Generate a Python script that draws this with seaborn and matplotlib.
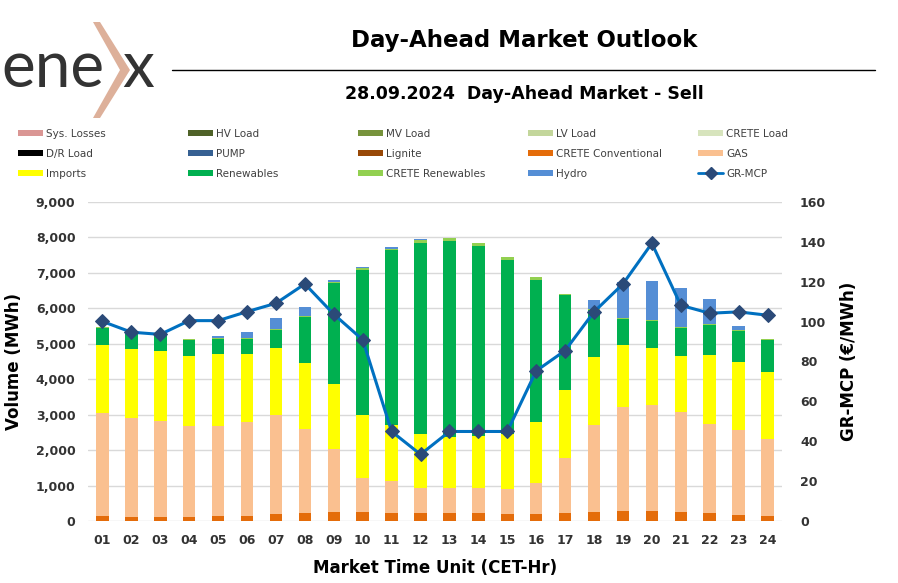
import numpy as np
import pandas as pd
import matplotlib
matplotlib.use("Agg")
import matplotlib.pyplot as plt
from matplotlib.patches import Patch, Polygon
from matplotlib.lines import Line2D
from matplotlib.ticker import FuncFormatter
import seaborn as sns

# hours of the day-ahead market
hours = ["%02d" % h for h in range(1, 25)]

# sell side volumes per hour (MWh)
sys_losses = [0] * 24
hv_load = [0] * 24
mv_load = [0] * 24
lv_load = [0] * 24
crete_load = [0] * 24
dr_load = [0] * 24
pump = [0] * 24
lignite = [0] * 24
crete_conv = [141, 122, 113, 103, 131, 141, 188, 226, 244, 254, 226, 226,
              226, 216, 207, 197, 226, 254, 282, 282, 244, 216, 160, 132]
gas = [2895, 2773, 2697, 2566, 2557, 2650, 2791, 2368, 1777, 949, 892, 695,
       695, 705, 695, 865, 1541, 2462, 2923, 2979, 2839, 2528, 2396, 2171]
imports = [1936, 1964, 1974, 1993, 2030, 1909, 1889, 1870, 1851, 1776, 1579, 1523,
           1457, 1476, 1560, 1729, 1917, 1917, 1767, 1626, 1569, 1946, 1936, 1908]
renewables = [470, 432, 486, 441, 423, 431, 527, 1288, 2829, 4107, 4935, 5404,
              5517, 5366, 4897, 4004, 2679, 1326, 733, 761, 799, 836, 875, 883]
crete_ren = [38, 29, 30, 37, 29, 19, 25, 28, 39, 38, 56, 66,
             94, 94, 94, 75, 47, 31, 20, 17, 19, 19, 18, 38]
hydro = [0, 0, 0, 0, 46, 179, 304, 263, 46, 56, 56, 47,
         0, 0, 0, 0, 0, 241, 1004, 1102, 1100, 724, 113, 0]

# GR-MCP (EUR/MWh)
gr_mcp = [100.1, 94.7, 93.6, 100.5, 100.5, 105.0, 109.2, 118.9, 103.7, 90.9, 44.9, 33.4,
          44.9, 44.9, 44.9, 75.3, 85.5, 104.9, 118.9, 139.3, 108.2, 104.2, 104.9, 103.2]

# legend order (row by row) and colours
legend_items = [
    ("Sys. Losses", sys_losses, "#DA9694"),
    ("HV Load", hv_load, "#4F6228"),
    ("MV Load", mv_load, "#77933C"),
    ("LV Load", lv_load, "#C3D69B"),
    ("CRETE Load", crete_load, "#D7E4BD"),
    ("D/R Load", dr_load, "#000000"),
    ("PUMP", pump, "#366092"),
    ("Lignite", lignite, "#984807"),
    ("CRETE Conventional", crete_conv, "#E46C0A"),
    ("GAS", gas, "#FAC090"),
    ("Imports", imports, "#FFFF00"),
    ("Renewables", renewables, "#00B050"),
    ("CRETE Renewables", crete_ren, "#92D050"),
    ("Hydro", hydro, "#558ED5"),
]
# stacking order, bottom to top
stack_order = ["Lignite", "CRETE Conventional", "GAS", "Imports", "Renewables",
               "CRETE Renewables", "Hydro", "PUMP", "D/R Load", "Sys. Losses",
               "HV Load", "MV Load", "LV Load", "CRETE Load"]

line_col = "#0070C0"
marker_col = "#2B4A78"
txt_col = "#333333"

sns.set_theme(style="white")
plt.rcParams["font.family"] = ["DejaVu Sans"]

fig = plt.figure(figsize=(8.98, 5.83), dpi=100)
ax = fig.add_axes([88 / 898, 1 - 521 / 583, (782 - 88) / 898, (521 - 202) / 583])

lookup = {name: (vals, col) for name, vals, col in legend_items}
cum = np.zeros(24)
layers = []
for name in stack_order:
    vals, col = lookup[name]
    if sum(vals) == 0:
        continue
    cum = cum + np.array(vals)
    layers.append((name, cum.copy(), col))

# overplot cumulative totals from the top layer down
for name, tops, col in reversed(layers):
    df = pd.DataFrame({"hour": hours, "value": tops})
    sns.barplot(data=df, x="hour", y="value", color=col, saturation=1,
                width=0.43, linewidth=0, ax=ax, zorder=2)

ax.set_xlim(-0.5, 23.5)
ax.set_ylim(0, 9000)
ax.set_yticks(range(0, 9001, 1000))
ax.yaxis.set_major_formatter(FuncFormatter(lambda v, p: f"{int(v):,}"))
ax.grid(axis="y", color="#D9D9D9", linewidth=1, zorder=0)
ax.set_axisbelow(True)
for s in ax.spines.values():
    s.set_visible(False)
ax.tick_params(axis="both", length=0, labelsize=9, colors=txt_col, pad=9)
for lab in ax.get_xticklabels() + ax.get_yticklabels():
    lab.set_fontweight("bold")
ax.set_xlabel("Market Time Unit (CET-Hr)", fontsize=12, fontweight="bold",
              color="black", labelpad=9)
ax.set_ylabel("Volume (MWh)", fontsize=12, fontweight="bold", color="black",
              labelpad=9)

ax2 = ax.twinx()
sns.lineplot(x=np.arange(24), y=gr_mcp, ax=ax2, color=line_col, linewidth=2.2,
             marker="D", markersize=7, markerfacecolor=marker_col,
             markeredgecolor=marker_col, zorder=5)
ax2.set_ylim(0, 160)
ax2.set_yticks(range(0, 161, 20))
ax2.grid(False)
for s in ax2.spines.values():
    s.set_visible(False)
ax2.tick_params(axis="y", length=0, labelsize=9, colors=txt_col, pad=13)
for lab in ax2.get_yticklabels():
    lab.set_fontweight("bold")
ax2.set_ylabel("GR-MCP (€/MWh)", fontsize=12, fontweight="bold", color="black",
               labelpad=10)

# legend: five columns of three entries
handles = []
for name, vals, col in legend_items:
    handles.append(Patch(facecolor=col, edgecolor="none", label=name))
handles.append(Line2D([0], [0], color=line_col, linewidth=2, marker="D",
                      markersize=6, markerfacecolor=marker_col,
                      markeredgecolor=marker_col, label="GR-MCP"))
col_x = [18, 188, 358, 528, 698]
for c in range(5):
    hs = [handles[r * 5 + c] for r in range(3)]
    fig.legend(handles=hs, loc="upper left",
               bbox_to_anchor=(col_x[c] / 898, 1 - 129 / 583),
               frameon=False, fontsize=7.5, handlelength=2.4, handleheight=0.55,
               handletextpad=0.3, labelspacing=0.95, borderpad=0,
               borderaxespad=0, labelcolor="#404040")

# header
fig.text(524 / 898, 1 - 40 / 583, "Day-Ahead Market Outlook", ha="center",
         va="center", fontsize=16.5, fontweight="bold", color="black")
fig.add_artist(Line2D([172 / 898, 875 / 898], [1 - 70 / 583, 1 - 70 / 583],
                      color="black", linewidth=1))
fig.text(524 / 898, 1 - 94 / 583, "28.09.2024  Day-Ahead Market - Sell",
         ha="center", va="center", fontsize=12.5, fontweight="bold", color="black")

# logo
logo_font = ["Lato", "DejaVu Sans"]
fig.text(1 / 898, 1 - 87 / 583, "ene", ha="left", va="baseline", fontsize=46,
         fontweight="normal", family=logo_font, color="#333333")
chev = [(93, 22), (100, 22), (130, 70), (100, 118), (93, 118), (120, 70)]
fig.add_artist(Polygon([(x / 898, 1 - y / 583) for x, y in chev], closed=True,
                       facecolor="#DDB09A", edgecolor="none",
                       transform=fig.transFigure))
fig.text(122 / 898, 1 - 87 / 583, "x", ha="left", va="baseline", fontsize=46,
         fontweight="normal", family=logo_font, color="#333333")

fig.savefig("out.png", dpi=100)
